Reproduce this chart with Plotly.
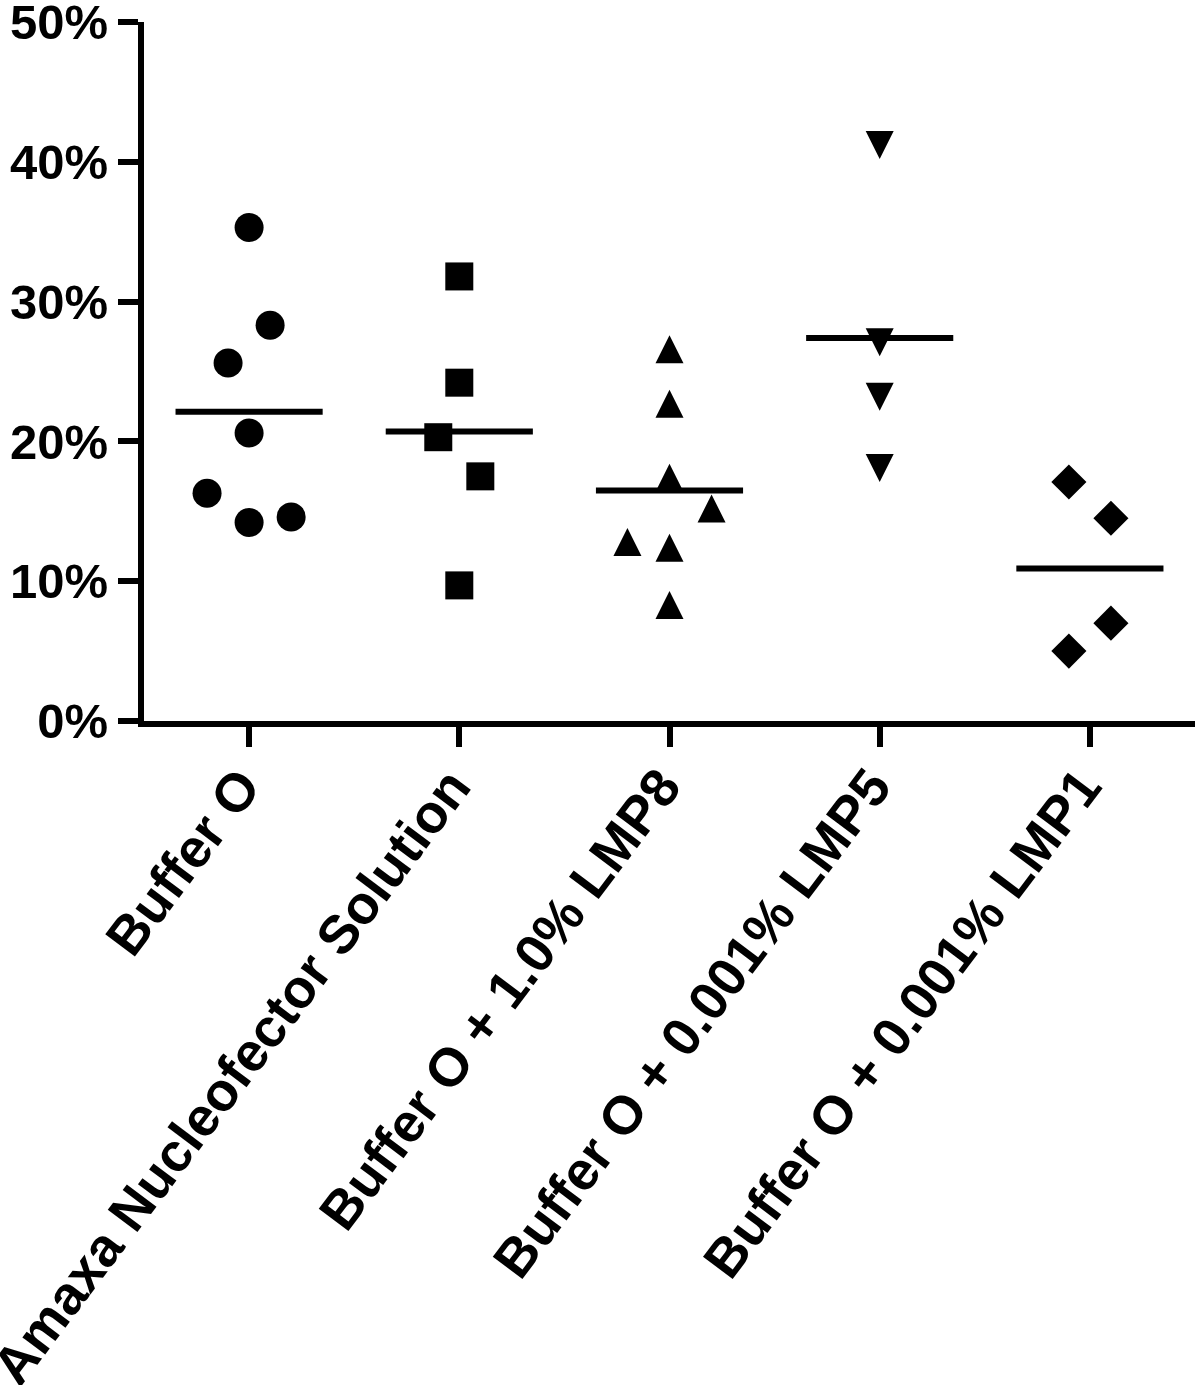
import plotly.graph_objects as go

# ---------------- data ----------------
categories = [
    "Buffer O",
    "Amaxa Nucleofector Solution",
    "Buffer O + 1.0% LMP8",
    "Buffer O + 0.001% LMP5",
    "Buffer O + 0.001% LMP1",
]
buffer_o = [35.3, 28.3, 25.6, 20.6, 16.3, 14.2, 14.6]
amaxa = [31.8, 24.2, 20.3, 17.5, 9.7]
lmp8 = [26.6, 22.7, 17.4, 15.2, 12.8, 12.4, 8.3]
lmp5 = [41.2, 27.1, 23.2, 18.1]
lmp1 = [17.1, 14.5, 7.0, 5.0]
y_ticks = [0, 10, 20, 30, 40, 50]
y_tick_labels = ["0%", "10%", "20%", "30%", "40%", "50%"]

# ---------------- style ----------------
# horizontal scatter (jitter) of points, in category units
jitter = [
    [0, 0.1, -0.1, 0, -0.2, 0, 0.2],
    [0, 0, -0.1, 0.1, 0],
    [0, 0, 0, 0.2, -0.2, 0, 0],
    [0, 0, 0, 0],
    [-0.1, 0.1, 0.1, -0.1],
]
# (symbol, size, angle, standoff)
marker_styles = [
    ("circle", 29, 0, 0),
    ("square", 28, 0, 0),
    ("arrow-down", 28, 180, 14),   # upward triangle centred on point
    ("arrow-down", 28, 0, 14),     # downward triangle centred on point
    ("diamond", 27, 0, 0),
]
mean_half_width = 0.35
FONT = "Liberation Sans, Arial, sans-serif"

groups = [buffer_o, amaxa, lmp8, lmp5, lmp1]

fig = go.Figure()
for i, (vals, jit, (sym, sz, ang, so)) in enumerate(zip(groups, jitter, marker_styles)):
    fig.add_trace(go.Scatter(
        x=[i + j for j in jit],
        y=vals,
        mode="markers",
        marker=dict(symbol=sym, size=sz, angle=ang, standoff=so, color="black",
                    line=dict(width=0)),
        showlegend=False,
        hoverinfo="y",
        cliponaxis=False,
    ))
    mean = sum(vals) / len(vals)
    fig.add_trace(go.Scatter(
        x=[i - mean_half_width, i + mean_half_width],
        y=[mean, mean],
        mode="lines",
        line=dict(color="black", width=6),
        showlegend=False,
        hoverinfo="skip",
    ))

fig.update_layout(
    width=1200,
    height=1385,
    margin=dict(l=144, r=5, t=22, b=664, pad=0),
    paper_bgcolor="white",
    plot_bgcolor="white",
    xaxis=dict(
        range=[-0.5, 4.5],
        tickmode="array",
        tickvals=list(range(len(categories))),
        ticktext=categories,
        tickangle=-53,
        automargin=False,
        showline=True,
        linecolor="black",
        linewidth=6,
        ticks="outside",
        ticklen=20,
        tickwidth=6,
        tickcolor="black",
        showgrid=False,
        zeroline=False,
        ticklabeloverflow="allow",
        ticklabelstandoff=-14,
        ticklabelshift=-8,
        tickfont=dict(family=FONT, size=54, color="black", weight="bold"),
    ),
    yaxis=dict(
        range=[0, 50],
        tickmode="array",
        tickvals=y_ticks,
        ticktext=y_tick_labels,
        automargin=False,
        showline=True,
        linecolor="black",
        linewidth=6,
        ticks="outside",
        ticklen=20,
        tickwidth=6,
        tickcolor="black",
        showgrid=False,
        zeroline=False,
        ticklabeloverflow="allow",
        tickfont=dict(family=FONT, size=49, color="black", weight="bold"),
    ),
)

fig.write_html(
    "out.html",
    config={"displayModeBar": False},
    post_script="document.body.style.margin='0';document.body.style.overflow='hidden';",
)
